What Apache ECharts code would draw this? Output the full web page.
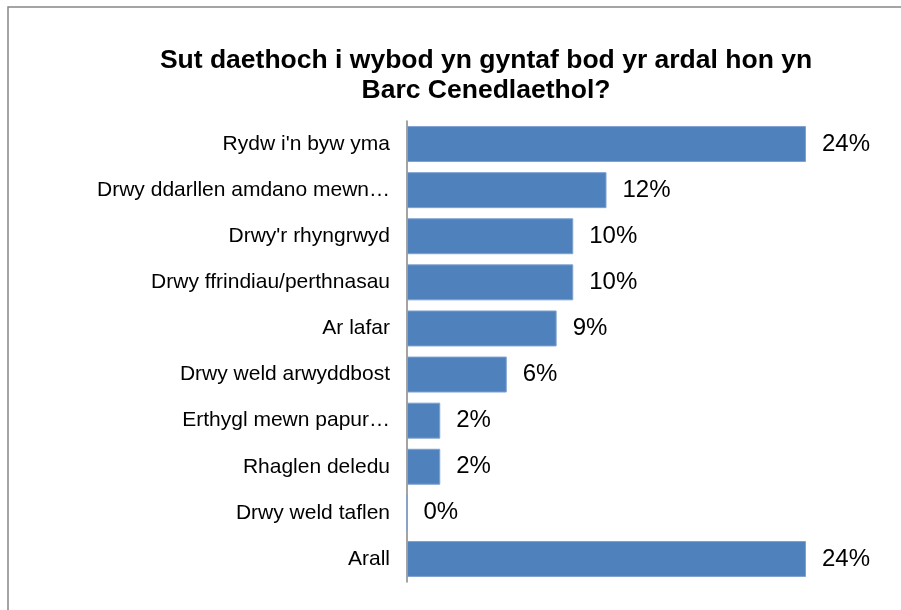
<!DOCTYPE html>
<html>
<head>
<meta charset="utf-8">
<script src="https://cdn.jsdelivr.net/npm/echarts@6/dist/echarts.min.js"></script>
<style>
    html, body { margin: 0; padding: 0; background: #fff; }
    #chart { width: 901px; height: 610px; }
</style>
</head>
<body>
<div id="chart"></div>
<script>
// categories, top to bottom
var categories = [
    "Rydw i'n byw yma",
    "Drwy ddarllen amdano mewn…",
    "Drwy'r rhyngrwyd",
    "Drwy ffrindiau/perthnasau",
    "Ar lafar",
    "Drwy weld arwyddbost",
    "Erthygl mewn papur…",
    "Rhaglen deledu",
    "Drwy weld taflen",
    "Arall"
];
// percentages
var values = [24, 12, 10, 10, 9, 6, 2, 2, 0, 24];

var chart = echarts.init(document.getElementById('chart'));
chart.setOption({
    animation: false,
    textStyle: { fontFamily: 'Liberation Sans, Arial, sans-serif' },
    title: {
        text: 'Sut daethoch i wybod yn gyntaf bod yr ardal hon yn\nBarc Cenedlaethol?',
        left: 481,
        textAlign: 'center',
        top: 41,
        textStyle: {
            fontSize: 26.5,
            fontWeight: 'bold',
            color: '#000',
            lineHeight: 30
        }
    },
    graphic: [{
        type: 'rect',
        shape: { x: 8, y: 7, width: 1000, height: 700 },
        style: { fill: 'none', stroke: '#868686', lineWidth: 1.5 },
        silent: true
    }],
    grid: { left: 407, right: 95, top: 121, bottom: 28 },
    xAxis: {
        type: 'value',
        min: 0,
        max: 24,
        show: false
    },
    yAxis: {
        type: 'category',
        inverse: true,
        data: categories,
        axisLine: { show: true, lineStyle: { color: '#868686', width: 1.5 } },
        axisTick: { show: false },
        axisLabel: { color: '#000', fontSize: 21, margin: 17 }
    },
    series: [{
        type: 'bar',
        data: values,
        barCategoryGap: '22%',
        itemStyle: { color: '#4F81BD', borderColor: '#7EA2D0', borderWidth: 1 },
        label: {
            show: true,
            position: 'right',
            distance: 16,
            color: '#000',
            fontSize: 24,
            formatter: '{c}%'
        }
    }]
});
</script>
</body>
</html>
